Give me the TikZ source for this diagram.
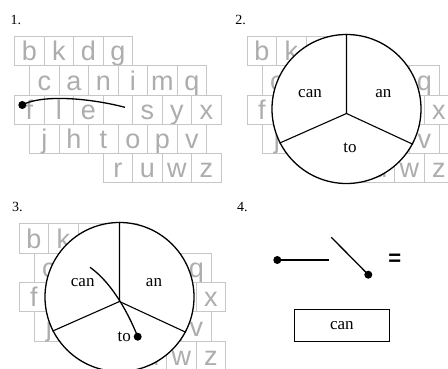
\documentclass[tikz,border=0pt]{standalone}
\usepackage{fontspec}
\setmainfont{Liberation Serif}
\newfontfamily\keyfont{Liberation Sans}
\definecolor{keytxt}{gray}{0.68}
\definecolor{keyline}{gray}{0.78}
\tikzset{
  keycell/.style={draw=keyline, line width=0.8pt, minimum width=29.5pt, minimum height=29.3pt,
    inner sep=0pt, text=keytxt, font=\keyfont\fontsize{27}{27}\selectfont,
    text height=19.5pt, text depth=0pt, anchor=north west},
  wheel/.style={circle, draw, fill=white, line width=1.3pt, minimum size=149pt, inner sep=0pt},
  spoke/.style={line width=1.1pt},
  stroke/.style={line width=1.3pt},
  dot/.style={circle, fill=black, inner sep=0pt, minimum size=8pt},
  word/.style={inner sep=0pt, font=\fontsize{17}{17}\selectfont},
  num/.style={inner sep=0pt, anchor=base west, font=\fontsize{14}{14}\selectfont},
}
\newcommand\drawkeyboard[3]{%
  \begin{scope}[shift={(#2,#3)}]
    \foreach \l [count=\i from 0] in {b,k,d,g}
      \node[keycell] (#1a\i) at ({14.3+29.5*\i},36) {\l};
    \foreach \l [count=\i from 0] in {c,a,n,i,m,q}
      \node[keycell] (#1b\i) at ({29.3+29.5*\i},65.3) {\l};
    \foreach \l [count=\i from 0] in {f,l,e,{},s,y,x}
      \node[keycell] (#1c\i) at ({14.3+29.5*\i},94.6) {\l};
    \foreach \l [count=\i from 0] in {j,h,t,o,p,v}
      \node[keycell] (#1d\i) at ({29.3+29.5*\i},123.9) {\l};
    \foreach \l [count=\i from 0] in {r,u,w,z}
      \node[keycell] (#1e\i) at ({102.8+29.5*\i},153.2) {\l};
  \end{scope}}
\begin{document}
\begin{tikzpicture}[x=1pt,y=-1pt]
\useasboundingbox[fill=white] (0,0) rectangle (448,369);

% ---------- panel 1 ----------
\node[num] (n1) at (10.5,24.3) {1.};
\drawkeyboard{p}{0}{0}
\node[dot] (d1) at (22.3,105) {};
\coordinate (e1) at (125,107.3);
\draw[stroke] (d1.center) .. controls (40,95) and (85,97) .. (e1);

% ---------- panel 2 ----------
\node[num] (n2) at (235.2,24.3) {2.};
\drawkeyboard{q}{232.4}{0}
\node[wheel] (c2) at (346.5,109) {};
\coordinate (j2) at (346.5,113.5);
\draw[spoke] (c2.north) -- (j2) -- (c2.207);
\draw[spoke] (j2) -- (c2.332);
\node[word] (can2) at (310,93.3) {can};
\node[word] (an2) at (383.3,93.3) {an};
\node[word] (to2) at (350,147.7) {to};

% ---------- panel 3 ----------
\node[num] (n3) at (12,211.3) {3.};
\drawkeyboard{r}{4.5}{187.3}
\node[wheel] (c3) at (119.5,297) {};
\coordinate (j3) at (119.5,301.5);
\draw[spoke] (c3.north) -- (j3) -- (c3.207);
\draw[spoke] (j3) -- (c3.332);
\node[word] (can3) at (82.7,282.3) {can};
\node[word] (an3) at (154,282.3) {an};
\node[word] (to3) at (124.3,336.7) {to};
\coordinate (s3) at (90,267.3);
\node[dot] (d3) at (137.7,336.7) {};
\draw[stroke] (s3) .. controls (108,280) and (125,305) .. (d3.center);

% ---------- panel 4 ----------
\node[num] (n4) at (237,211.3) {4.};
\node[dot] (a4) at (277.3,260) {};
\coordinate (a4e) at (329,260);
\draw[stroke] (a4.center) -- (a4e);
\coordinate (b4s) at (331.3,237.3);
\node[dot] (b4) at (368.3,274.7) {};
\draw[stroke] (b4s) -- (b4.center);
\node[inner sep=0pt, font=\keyfont\bfseries\fontsize{22}{22}\selectfont] (eq) at (394.7,260) {=};
\node[draw, line width=1pt, minimum width=95.7pt, minimum height=32.7pt, inner sep=0pt,
      font=\fontsize{17}{17}\selectfont] (box) at (341.85,325.35) {can};
\end{tikzpicture}
\end{document}
